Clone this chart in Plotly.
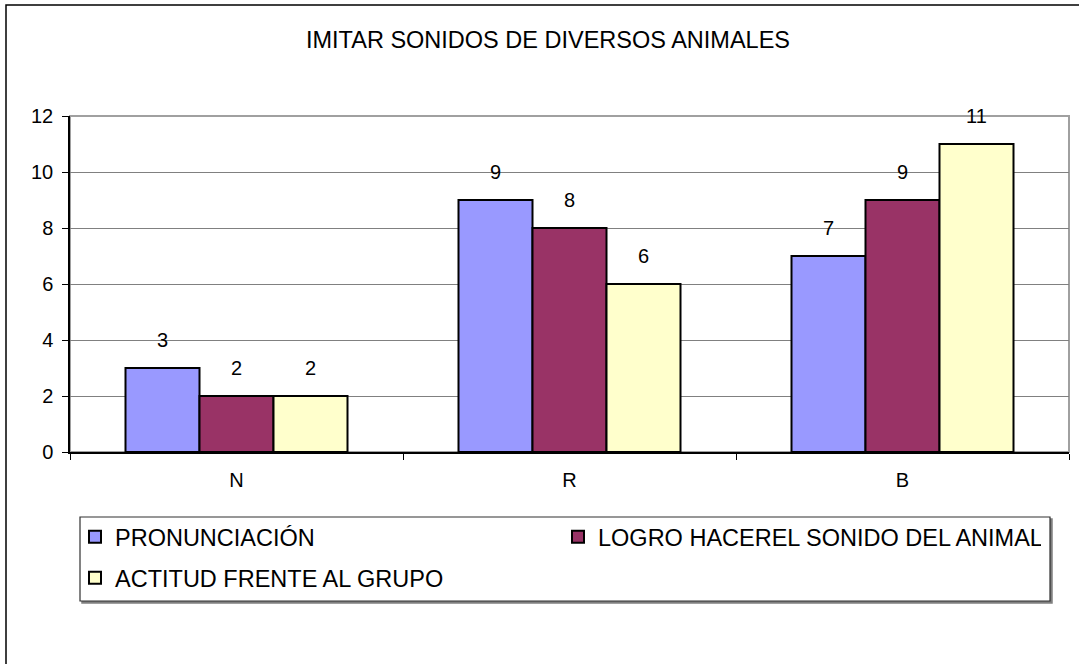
import plotly.graph_objects as go

# categories and series
categories = ["N", "R", "B"]
pronunciacion = [3, 9, 7]
logro = [2, 8, 9]
actitud = [2, 6, 11]

series_names = ["PRONUNCIACIÓN", "LOGRO HACEREL SONIDO DEL ANIMAL", "ACTITUD FRENTE AL GRUPO"]
series_values = [pronunciacion, logro, actitud]
series_colors = ["#9999FF", "#993366", "#FFFFCC"]
series_legend = ["legend", "legend", "legend2"]

y_ticks = [0, 2, 4, 6, 8, 10, 12]

W, H = 1079, 664
ML, MR, MT, MB = 70, 10, 116, 212
PW, PH = W - ML - MR, H - MT - MB
FONT = "Liberation Sans, Arial, sans-serif"


def px_x(x):
    return (x - ML) / PW


def px_y(y):
    return (H - MB - y) / PH


fig = go.Figure()
for name, vals, col, leg in zip(series_names, series_values, series_colors, series_legend):
    fig.add_trace(go.Bar(
        x=categories, y=vals, name=name, legend=leg,
        marker=dict(color=col, line=dict(color="black", width=2)),
    ))

# bar width in px, used to put each value label over its own bar
bargap = 1 / 3
bar_px = PW / len(categories) * (1 - bargap) / len(series_values)
for i, vals in enumerate(series_values):
    for cat, v in zip(categories, vals):
        fig.add_annotation(
            x=cat, y=v, text=str(v), showarrow=False,
            xshift=(i - 1) * bar_px, yshift=28, yanchor="middle",
            font=dict(size=20, color="black", family=FONT),
        )

# plot area frame (grey), legend box with shadow, outer chart border
fig.add_shape(type="rect", xref="x domain", yref="y domain", x0=0, x1=1, y0=0, y1=1,
              line=dict(color="#a0a0a0", width=2), layer="below")
fig.add_shape(type="rect", xref="paper", yref="paper",
              x0=px_x(82), x1=px_x(1052), y0=px_y(603), y1=px_y(519),
              line=dict(color="#808080", width=1.5), fillcolor="#808080")
fig.add_shape(type="rect", xref="paper", yref="paper",
              x0=px_x(80), x1=px_x(1050), y0=px_y(601), y1=px_y(517),
              line=dict(color="#303030", width=1.2), fillcolor="white")
fig.add_shape(type="rect", xref="paper", yref="paper",
              x0=px_x(6), x1=px_x(1100), y0=px_y(700), y1=px_y(5),
              line=dict(color="black", width=1.5))

legend_common = dict(
    orientation="h", xanchor="left", yanchor="middle",
    font=dict(size=23.5, family=FONT, color="black"),
    bgcolor="rgba(0,0,0,0)", borderwidth=0,
    entrywidth=438, entrywidthmode="pixels", traceorder="normal",
)

fig.update_layout(
    width=W, height=H,
    margin=dict(l=ML, r=MR, t=MT, b=MB, autoexpand=False),
    paper_bgcolor="white", plot_bgcolor="white",
    font=dict(family=FONT, color="black"),
    barmode="group", bargap=bargap, bargroupgap=0,
    title=dict(text="IMITAR SONIDOS DE DIVERSOS ANIMALES", x=px_x(548), xref="paper",
               xanchor="center", y=1 - 40 / H, yref="container", yanchor="middle",
               font=dict(size=23.5, family=FONT, color="black")),
    xaxis=dict(
        showline=True, linecolor="black", linewidth=2,
        ticks="outside", tickson="boundaries", ticklen=6, tickcolor="black",
        tickfont=dict(size=20), showgrid=False, ticklabelstandoff=9,
    ),
    yaxis=dict(
        range=[0, 12], tickvals=y_ticks, showline=True, linecolor="black", linewidth=1.5,
        ticks="outside", ticklen=6, tickcolor="black", tickfont=dict(size=20),
        showgrid=True, gridcolor="#808080", gridwidth=1, zeroline=False,
        ticklabelstandoff=5,
    ),
    legend=dict(x=px_x(75), y=px_y(537), **legend_common),
    legend2=dict(x=px_x(75), y=px_y(578), **legend_common),
    showlegend=True,
)

fig.write_html("out.html", config={"displayModeBar": False},
               post_script="document.body.style.margin = '0';")
